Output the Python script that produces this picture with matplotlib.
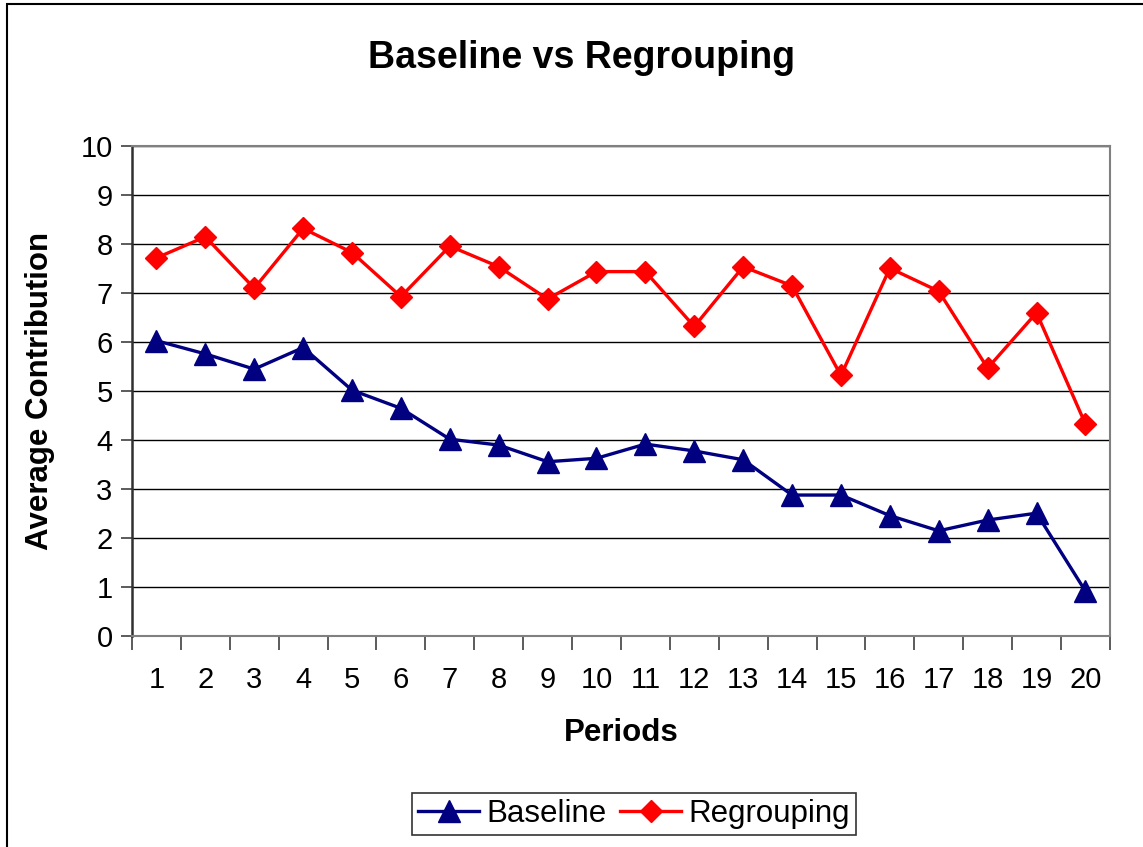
import numpy as np
import matplotlib
matplotlib.use('Agg')
import matplotlib.pyplot as plt
from matplotlib.patches import Rectangle

periods = list(range(1, 21))
baseline = [6.02, 5.75, 5.44, 5.88, 5.01, 4.64, 4.01, 3.89, 3.55, 3.62,
            3.91, 3.77, 3.59, 2.87, 2.87, 2.45, 2.14, 2.36, 2.50, 0.91]
regrouping = [7.71, 8.14, 7.09, 8.31, 7.82, 6.92, 7.95, 7.53, 6.87, 7.43,
              7.43, 6.31, 7.53, 7.14, 5.31, 7.50, 7.03, 5.46, 6.59, 4.32]
y_ticks = list(range(0, 11))

plt.rcParams['font.family'] = ['Liberation Sans', 'DejaVu Sans']

fig = plt.figure(figsize=(11.43, 8.47), dpi=100)
ax = fig.add_axes([0.1155, 0.2495, 0.8555, 0.5785])

# outer chart border
fig.patches.append(Rectangle((7 / 1143, -0.1), 1.2, 1.1 - 4 / 847, transform=fig.transFigure,
                             fill=False, edgecolor='black', linewidth=1.5))

ax.plot(periods, baseline, color='#000080', linewidth=2.4, marker='^', markersize=16,
        label='Baseline', zorder=3)
ax.plot(periods, regrouping, color='#FF0000', linewidth=2.4, marker='D', markersize=11,
        label='Regrouping', zorder=3)

ax.set_xlim(0.5, 20.5)
ax.set_ylim(0, 10)
ax.set_yticks(y_ticks)
ax.set_yticklabels([str(v) for v in y_ticks], fontsize=21)
ax.yaxis.grid(True, color='black', linewidth=1)
ax.set_axisbelow(True)

# category boundaries as major ticks, labels on minor ticks
ax.set_xticks(np.arange(0.5, 21, 1))
ax.set_xticklabels([])
ax.set_xticks(periods, minor=True)
ax.set_xticklabels([str(p) for p in periods], minor=True, fontsize=21)
ax.tick_params(axis='x', which='major', length=10, width=1.2, color='#404040')
ax.tick_params(axis='x', which='minor', length=0, pad=22)
ax.tick_params(axis='y', length=8, width=1.2, color='#404040', pad=6)

for side in ['top', 'right', 'bottom']:
    ax.spines[side].set_color('#808080')
    ax.spines[side].set_linewidth(1.5)
ax.spines['left'].set_color('#303030')
ax.spines['left'].set_linewidth(1.8)

fig.text(582 / 1143, 1 - 68 / 847, 'Baseline vs Regrouping', fontsize=27, fontweight='bold',
         ha='center', va='baseline')
ax.set_xlabel('Periods', fontsize=22.5, fontweight='bold', labelpad=17)
ax.set_ylabel('Average Contribution', fontsize=22.5, fontweight='bold', labelpad=18)

leg = fig.legend(loc='center', bbox_to_anchor=(634 / 1143, 1 - 814 / 847), ncol=2, fontsize=22.5,
                 frameon=True, fancybox=False, edgecolor='black', handlelength=1.95,
                 columnspacing=0.45, handletextpad=0.22, borderpad=0.2, borderaxespad=0)
leg.get_frame().set_linewidth(1.2)

plt.savefig('out.png', dpi=100)
plt.close()
